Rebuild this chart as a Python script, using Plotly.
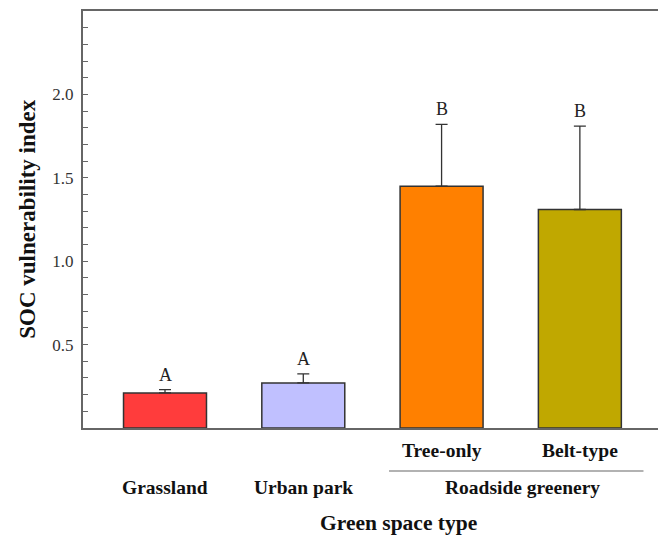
import plotly.graph_objects as go

# Green space categories and SOC vulnerability index (mean, upper SD)
categories = ["Grassland", "Urban park", "Tree-only", "Belt-type"]
means = [0.21, 0.27, 1.45, 1.31]
sd_upper = [0.02, 0.055, 0.37, 0.50]
letters = ["A", "A", "B", "B"]
bar_colors = ["#FF3C3C", "#C0C0FF", "#FF8000", "#C0A800"]
y_tick_values = [0.5, 1.0, 1.5, 2.0]
y_tick_labels = ["0.5", "1.0", "1.5", "2.0"]
group_label = "Roadside greenery"

FONT = "Liberation Serif"
AXIS_COLOR = "#666666"
positions = list(range(len(categories)))

fig = go.Figure()
fig.add_trace(go.Bar(
    x=positions,
    y=means,
    width=0.6,
    marker=dict(color=bar_colors, line=dict(color="#333333", width=1.5)),
    error_y=dict(type="data", symmetric=False, array=sd_upper,
                 arrayminus=[0] * len(means), color="#333333",
                 thickness=1.3, width=6),
    showlegend=False,
))

annotations = []
# significance letters above the error bars
for xi, m, e, t in zip(positions, means, sd_upper, letters):
    annotations.append(dict(x=xi, y=m + e, xref="x", yref="y", text=t,
                            showarrow=False, yanchor="bottom", yshift=3,
                            font=dict(family=FONT, size=18, color="#222")))

# category labels: standalone types sit low, roadside subtypes sit high
label_y = {"Grassland": -0.142, "Urban park": -0.142,
           "Tree-only": -0.053, "Belt-type": -0.053}
for xi, c in zip(positions, categories):
    annotations.append(dict(x=xi, y=label_y[c], xref="x", yref="paper",
                            text=f"<b>{c}</b>", showarrow=False,
                            xanchor="center", yanchor="middle",
                            font=dict(family=FONT, size=19.5, color="#111")))

group_x0, group_x1 = 1.62, 3.46
annotations.append(dict(x=(group_x0 + group_x1) / 2, y=-0.142, xref="x",
                        yref="paper", text=f"<b>{group_label}</b>",
                        showarrow=False, xanchor="center", yanchor="middle",
                        xshift=6,
                        font=dict(family=FONT, size=19.5, color="#111")))

annotations.append(dict(x=(283 + 440) / 2 / 658, y=-0.228, xref="paper",
                        yref="paper", xanchor="center", yanchor="middle",
                        text="<b>Green space type</b>", showarrow=False,
                        font=dict(family=FONT, size=21.5, color="#111")))
annotations.append(dict(x=-0.097, y=0.5, xref="paper", yref="paper",
                        text="<b>SOC vulnerability index</b>", textangle=-90,
                        showarrow=False, xanchor="center", yanchor="middle",
                        font=dict(family=FONT, size=23, color="#111")))

fig.update_layout(
    width=658, height=536,
    margin=dict(l=83, r=0, t=11, b=108),
    paper_bgcolor="white", plot_bgcolor="white",
    annotations=annotations,
    shapes=[dict(type="line", xref="x", yref="paper", x0=group_x0,
                 x1=group_x1, y0=-0.103, y1=-0.103,
                 line=dict(color="#999999", width=1.5))],
    xaxis=dict(range=[-0.593, 3.565], showticklabels=False, ticks="",
               showgrid=False, zeroline=False, showline=True,
               linecolor=AXIS_COLOR, linewidth=2, mirror=True),
    yaxis=dict(range=[0, 2.5], tickvals=y_tick_values, ticktext=y_tick_labels,
               ticks="inside", ticklen=5, tickwidth=1, tickcolor=AXIS_COLOR,
               minor=dict(dtick=0.1, ticks="inside", ticklen=5, tickwidth=1,
                          tickcolor=AXIS_COLOR, showgrid=False),
               showgrid=False, zeroline=False, showline=True,
               linecolor=AXIS_COLOR, linewidth=2, mirror=False,
               ticklabelstandoff=4,
               tickfont=dict(family=FONT, size=17, color="#333")),
)

fig.write_html("out.html")
